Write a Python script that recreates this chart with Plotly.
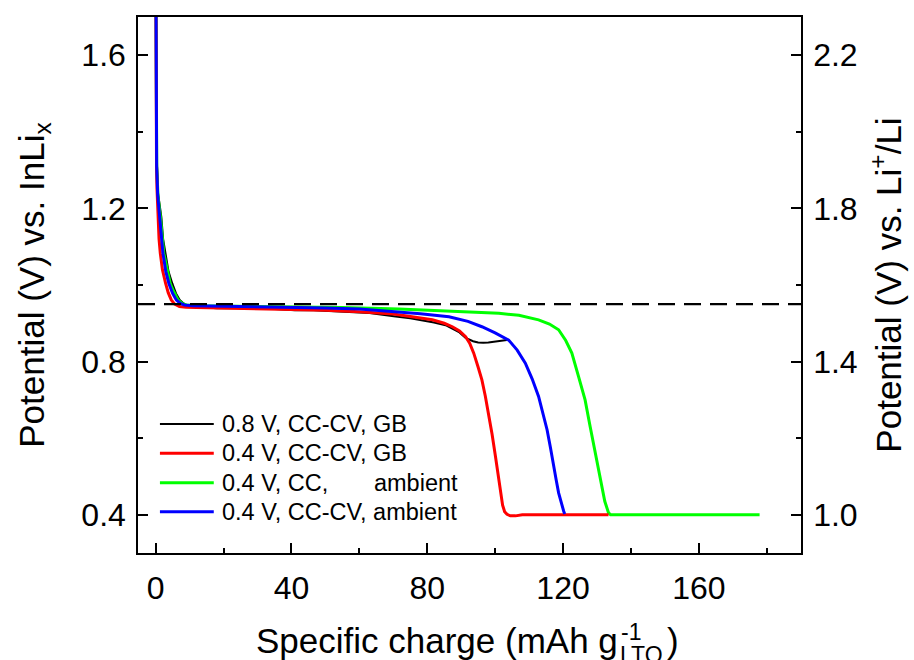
import plotly.graph_objects as go

# ---- data: specific charge (mAh/g) and potential vs. InLi_x (V) ----
black_q = [0, 0.15, 0.35, 0.7, 1.67, 2.2, 2.85, 3.8, 4.9, 6.0, 7.1, 8.3, 9.5, 11, 15, 18, 22, 26, 30,
           34, 38, 41, 45, 50, 55, 60, 63, 66, 70.7, 75, 79, 82, 85.4, 87.5, 89.5, 91.3, 92.5, 93.5,
           95, 96.5, 98, 99.5, 101, 102.5, 104]
black_v = [1.95, 1.50, 1.32, 1.24, 1.178, 1.12, 1.083, 1.035, 1.004, 0.978, 0.961, 0.951, 0.946, 0.943,
           0.941, 0.939, 0.940, 0.938, 0.937, 0.938, 0.935, 0.934, 0.935, 0.932, 0.931, 0.928, 0.927,
           0.924, 0.918, 0.913, 0.907, 0.902, 0.895, 0.886, 0.876, 0.862, 0.856, 0.853, 0.850, 0.849,
           0.850, 0.852, 0.853, 0.855, 0.857]

red_q = [0, 0.1, 0.25, 0.4, 0.68, 1.0, 1.37, 2.0, 2.94, 3.7, 4.6, 5.6, 7.0, 9.0, 12, 20, 30, 40, 50,
         60, 70, 76, 81.5, 85, 87.4, 89.5, 91.3, 92.5, 93.7, 95, 96.1, 97.1, 98.1, 99.1, 100.1, 100.9,
         101.6, 102.2, 102.8, 103.5, 104.5, 106, 108, 115, 125, 133.4]
red_v = [1.95, 1.50, 1.32, 1.25, 1.178, 1.12, 1.083, 1.04, 1.004, 0.98, 0.961, 0.950, 0.944, 0.942,
         0.941, 0.940, 0.938, 0.936, 0.934, 0.930, 0.924, 0.916, 0.909, 0.900, 0.891, 0.880, 0.865,
         0.848, 0.822, 0.785, 0.752, 0.710, 0.665, 0.610, 0.552, 0.500, 0.456, 0.425, 0.408, 0.401,
         0.397, 0.397, 0.400, 0.400, 0.400, 0.400]

green_q = [0, 0.12, 0.32, 0.7, 1.4, 2.4, 4.3, 5.2, 6.6, 7.8, 9, 12, 20, 30, 41, 55, 71.7, 85.4, 95,
           101.1, 107, 112.8, 116, 118.7, 120.8, 122.6, 124.6, 126.5, 128, 129.5, 130.4, 131.3, 132.3,
           133.4, 134, 140, 150, 160, 170, 177.9]
green_v = [1.95, 1.50, 1.31, 1.23, 1.178, 1.083, 1.004, 0.985, 0.961, 0.952, 0.948, 0.946, 0.945, 0.944,
           0.943, 0.941, 0.937, 0.932, 0.929, 0.926, 0.921, 0.909, 0.898, 0.883, 0.855, 0.822, 0.760,
           0.700, 0.630, 0.562, 0.515, 0.473, 0.435, 0.405, 0.400, 0.400, 0.400, 0.400, 0.400, 0.400]

blue_q = [0, 0.12, 0.3, 0.6, 1.17, 1.6, 2.15, 3.0, 3.9, 5.0, 6.1, 7.3, 8.5, 11, 20, 30, 41, 50, 60,
          70.7, 78, 86.4, 92, 96.1, 100, 104, 106.5, 108.9, 110.9, 112.8, 114.1, 115.3, 116.3, 117.2,
          118.0, 118.7, 119.5, 120.2, 120.5]
blue_v = [1.95, 1.50, 1.31, 1.235, 1.178, 1.13, 1.083, 1.035, 1.004, 0.978, 0.961, 0.952, 0.948, 0.946,
          0.945, 0.944, 0.942, 0.940, 0.937, 0.931, 0.925, 0.917, 0.905, 0.891, 0.875, 0.856, 0.830,
          0.796, 0.755, 0.709, 0.665, 0.622, 0.575, 0.526, 0.490, 0.457, 0.428, 0.409, 0.402]

labels = ["0.8 V, CC-CV, GB", "0.4 V, CC-CV, GB",
          "0.4 V, CC,\u00a0\u00a0\u00a0\u00a0\u00a0\u00a0 ambient", "0.4 V, CC-CV, ambient"]
colors = ["#000000", "#ff0000", "#00ff00", "#0000ff"]
widths = [2.0, 3.0, 3.0, 3.0]

ref_potential = 0.95          # dashed reference line (V vs. InLi_x)
li_offset = 0.6               # InLi_x -> Li+/Li conversion
x_range = [-5.2, 190.1]
y_range = [0.30, 1.70]

FONT = "Liberation Sans, Arial, sans-serif"

# figure geometry (pixels) used for the hand-placed legend and x title
W, H = 914, 660
ML, MR, MT, MB = 138, 111, 17, 107
PW, PH = W - ML - MR, H - MT - MB


def px_x(p):
    return (p - ML) / PW


def px_y(p):
    return (H - MB - p) / PH


fig = go.Figure()
series = [(black_q, black_v), (green_q, green_v), (red_q, red_v), (blue_q, blue_v)]
order = [0, 2, 1, 3]
for (q, v), idx in zip(series, order):
    fig.add_trace(go.Scatter(x=q, y=v, mode="lines", name=labels[idx],
                             line=dict(color=colors[idx], width=widths[idx]),
                             showlegend=False))

# invisible trace to activate the right-hand Li+/Li axis
fig.add_trace(go.Scatter(x=[None], y=[None], yaxis="y2", showlegend=False))

# reference potential
fig.add_shape(type="line", xref="paper", x0=0, x1=1, yref="y", y0=ref_potential, y1=ref_potential,
              line=dict(color="black", width=2.4, dash="17px,9px"))

# legend drawn by hand: line samples + labels
row_y = [424, 453.3, 482.7, 511.7]
for lab, col, w, ry in zip(labels, colors, widths, row_y):
    fig.add_shape(type="line", xref="paper", yref="paper", x0=px_x(160), x1=px_x(214),
                  y0=px_y(ry), y1=px_y(ry), line=dict(color=col, width=w))
    fig.add_annotation(xref="paper", yref="paper", x=px_x(220), y=px_y(ry), text=lab,
                       showarrow=False, xanchor="left", yanchor="middle",
                       font=dict(family=FONT, size=23.5, color="black"))

# x-axis title with stacked super/subscript
title_font = dict(family=FONT, size=35, color="black")
small_font = dict(family=FONT, size=23, color="black")
fig.add_annotation(xref="paper", yref="paper", x=px_x(621), y=px_y(640), text="Specific charge (mAh g",
                   showarrow=False, xanchor="right", yanchor="middle", font=title_font)
fig.add_annotation(xref="paper", yref="paper", x=px_x(620), y=px_y(632), text="-1",
                   showarrow=False, xanchor="left", yanchor="middle", font=small_font)
fig.add_annotation(xref="paper", yref="paper", x=px_x(619), y=px_y(655), text="LTO",
                   showarrow=False, xanchor="left", yanchor="middle", font=small_font)
fig.add_annotation(xref="paper", yref="paper", x=px_x(667), y=px_y(640), text=")",
                   showarrow=False, xanchor="left", yanchor="middle", font=title_font)

tick_font = dict(family=FONT, size=32, color="black")
axis_common = dict(showline=True, linecolor="black", linewidth=1.5, ticks="inside",
                   ticklen=10, tickwidth=1.5, tickcolor="black", showgrid=False, zeroline=False,
                   tickfont=tick_font)

fig.update_layout(
    width=W, height=H,
    margin=dict(l=ML, r=MR, t=MT, b=MB),
    plot_bgcolor="white", paper_bgcolor="white",
    font=dict(family=FONT, color="black"),
    xaxis=dict(range=x_range, tick0=0, dtick=40, mirror=True,
               minor=dict(ticks="inside", ticklen=5, tickwidth=1.5, dtick=20, tickcolor="black"),
               ticklabelstandoff=6, **axis_common),
    yaxis=dict(range=y_range, tick0=0.4, dtick=0.4, tickformat=".1f",
               minor=dict(ticks="inside", ticklen=5, tickwidth=1.5, dtick=0.2, tickcolor="black"),
               title=dict(text="Potential (V) vs. InLi<sub>x</sub>", font=title_font, standoff=26),
               ticklabelstandoff=4, **axis_common),
    yaxis2=dict(range=[y_range[0] + li_offset, y_range[1] + li_offset], overlaying="y", side="right",
                tick0=1.0, dtick=0.4, tickformat=".1f",
                minor=dict(ticks="inside", ticklen=5, tickwidth=1.5, dtick=0.2, tickcolor="black"),
                title=dict(text="Potential (V) vs. Li<sup>+</sup>/Li", font=title_font, standoff=20),
                ticklabelstandoff=4, **axis_common),
)

fig.write_html("out.html")
